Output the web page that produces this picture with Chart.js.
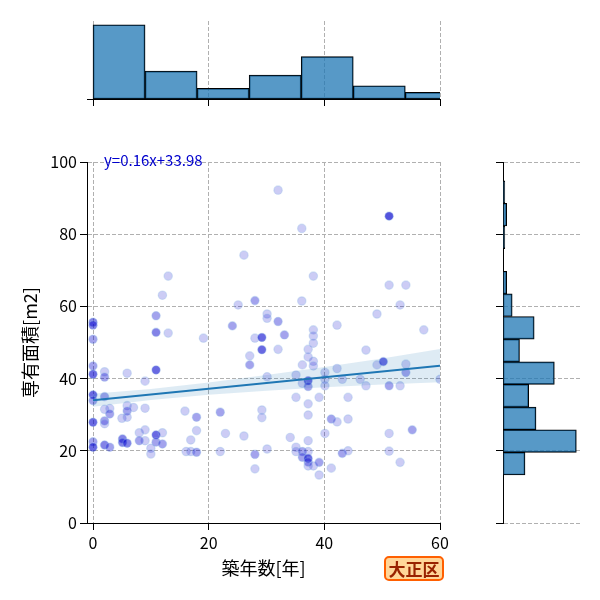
<!DOCTYPE html>
<html>
<head>
<meta charset="utf-8">
<script src="https://cdn.jsdelivr.net/npm/chart.js@4/dist/chart.umd.min.js"></script>
<style>
  html, body { margin: 0; padding: 0; background: #fff; }
  #wrap { position: relative; width: 600px; height: 600px; }
  canvas { position: absolute; left: 0; top: 0; }
  #ward {
    position: absolute; left: 384px; top: 556px; width: 60px; height: 25px;
    box-sizing: border-box; border: 2px solid #ff5f00; border-radius: 5px;
    background: #ffd699; color: #992200; text-align: center;
    font: bold 17px "Noto Sans CJK JP", sans-serif; line-height: 21px;
  }
</style>
</head>
<body>
<div id="wrap">
  <canvas id="top" width="600" height="600"></canvas>
  <canvas id="side" width="600" height="600"></canvas>
  <canvas id="main" width="600" height="600"></canvas>
  <div id="ward">大正区</div>
</div>
<script>
// building age [years] of each listing
const ages = [
  0, 0, 0, 0, 0, 0, 0, 0, 0, 0,
  2, 2, 2, 2, 2.9, 2.9, 2, 2, 2, 2.9,
  5.9, 10.9, 9, 5.9, 5.9, 7, 9, 5, 5.9,
  8, 9, 9, 8, 10.9, 10.9, 12, 12, 10, 10,
  5.1, 5.1, 5.9,
  15.9, 17.9, 22, 17.9, 16.9, 22.9, 26.1, 16.1, 16.9, 17.9, 22, 28, 28,
  26.1, 13, 12, 10.9, 10.9, 13, 19.1, 25.1, 28, 24.1, 28,
  32, 36.1, 51.2, 38.1, 51.2, 54.1, 53.1, 49.1, 36.1, 30.1, 30.1, 32, 42.2, 57.2, 29.2, 33.1, 38.1, 38.1, 38.1, 37.2, 29.2, 32, 47.2,
  27.1, 27.1, 37.2, 38.1, 38.1, 36.2, 42.2, 49.1, 50.2, 54.1, 54.1, 35.1, 30.1, 37.2, 36.2, 37.2, 40.1, 40.1, 40.1, 43.1, 46.2, 47.2, 51.2, 53.1, 60,
  35.1, 39.1, 44.1, 37.2, 37.2, 29.2, 29.2, 41.2, 42.2, 44.1, 55.2, 51.2, 40.1, 34.1, 37.2, 30.1, 35.1, 35.1, 36.2, 37.2, 36.2, 37.2, 37.2, 37.2, 38.1, 39.1, 39.1, 41.2, 43.1, 44.1, 51.2, 53.1
];
// floor area [m2]
const areas = [
  55.6, 54.8, 50.9, 43.5, 41.2, 35.5, 33.9, 27.9, 22.5, 21.0,
  41.9, 40.4, 35.0, 31.5, 31.7, 30.2, 28.3, 27.5, 21.6, 21.0,
  41.5, 42.4, 39.3, 32.5, 31.0, 32.0, 31.8, 29.0, 29.3,
  25.0, 25.8, 22.8, 22.8, 24.4, 22.4, 25.0, 21.9, 20.7, 19.1,
  23.3, 22.3, 22.1,
  31.0, 29.3, 30.7, 25.6, 23.0, 24.8, 24.1, 19.8, 19.8, 19.6, 19.8, 19.0, 15.0,
  74.2, 68.4, 63.1, 57.4, 52.8, 52.6, 51.2, 60.4, 61.6, 54.6, 51.2,
  92.2, 81.6, 85.0, 68.4, 65.9, 65.9, 60.4, 57.9, 61.5, 57.9, 56.7, 55.8, 54.8, 53.5, 51.4, 52.1, 53.5, 51.8, 49.8, 48.1, 48.0, 48.1, 47.9,
  46.3, 43.8, 46.0, 44.8, 43.5, 43.8, 42.8, 43.8, 44.7, 44.0, 41.7, 41.0, 40.5, 39.4, 38.7, 37.8, 41.7, 39.8, 38.0, 39.8, 39.8, 38.0, 38.0, 38.0, 39.8,
  34.8, 34.8, 34.8, 33.0, 29.9, 31.3, 29.2, 28.8, 28.0, 28.8, 25.8, 24.8, 24.8, 23.7, 22.8, 20.5, 21.0, 19.8, 19.8, 19.8, 18.2, 17.9, 16.9, 15.8, 15.8, 16.8, 13.3, 15.2, 19.3, 20.0, 19.9, 16.8
];
// how many listings sit on top of each other at that spot
const stacked = [
  3, 3, 2, 2, 4, 4, 2, 4, 2, 4,
  1, 2, 2, 1, 1, 2, 2, 1, 3, 2,
  1, 4, 1, 1, 2, 1, 1, 1, 1,
  1, 1, 1, 2, 4, 2, 1, 2, 1, 1,
  3, 3, 3,
  1, 2, 2, 1, 1, 1, 1, 1, 1, 2, 1, 2, 1,
  1, 1, 1, 2, 3, 1, 1, 1, 2, 2, 1,
  1, 1, 5, 1, 1, 1, 1, 1, 1, 1, 1, 2, 1, 1, 4, 2, 1, 1, 1, 1, 4, 1, 1,
  1, 2, 1, 1, 1, 1, 1, 1, 4, 1, 2, 1, 1, 4, 1, 2, 1, 1, 1, 1, 1, 1, 2, 1, 1,
  1, 1, 1, 1, 1, 1, 1, 2, 1, 1, 2, 1, 1, 1, 1, 1, 1, 1, 2, 1, 2, 4, 2, 1, 1, 2, 1, 1, 2, 1, 1, 1
];

// regression fit and its confidence band
const slope = 0.16;
const intercept = 33.98;
const bandX = [0, 10, 20, 30, 40, 50, 60];
const bandLo = [32.2, 34.1, 35.5, 36.6, 37.6, 38.4, 39.0];
const bandHi = [35.8, 37.1, 38.9, 41.0, 43.2, 45.6, 48.2];

// marginal histograms
const ageBinStart = 0, ageBinWidth = 9;
const ageCounts = [56, 21, 8, 18, 32, 10, 5];
const areaBinStart = 13.3, areaBinWidth = 6.27;
const areaCounts = [12, 40, 18, 14, 28, 9, 17, 5, 2, 0, 1, 2, 1];

const ageTicks = [0, 20, 40, 60];
const areaTicks = [0, 20, 40, 60, 80, 100];
const xMin = -1.04, xMax = 60;

const FONT = '"Noto Sans CJK JP", "Noto Sans", sans-serif';
const gridGray = '#b0b0b0';
const histFill = 'rgba(31,119,180,0.75)';

function axisStyle(tickVals) {
  return {
    afterBuildTicks: s => { s.ticks = tickVals.map(v => ({ value: v })); },
    grid: { color: gridGray, lineWidth: 1, tickLength: 7, tickColor: '#000', tickWidth: 1, offset: false },
    border: { color: '#000', width: 1, dash: [4, 2] },
  };
}

const base = {
  responsive: false,
  animation: false,
  devicePixelRatio: 1,
  events: [],
  plugins: { legend: { display: false }, tooltip: { enabled: false } },
};

// equation text in the top left corner of the scatter
const eqLabel = {
  id: 'eqLabel',
  afterDatasetsDraw(chart) {
    const { ctx, chartArea } = chart;
    ctx.save();
    ctx.font = '15px ' + FONT;
    ctx.fillStyle = '#0000cd';
    ctx.textBaseline = 'middle';
    ctx.fillText('y=' + slope.toFixed(2) + 'x+' + intercept.toFixed(2), chartArea.left + 17, chartArea.top - 2);
    ctx.restore();
  }
};

const points = ages.map((a, i) => ({ x: a, y: areas[i] }));
const pointFill = stacked.map(n => 'rgba(0,0,205,' + (1 - Math.pow(0.8, n)).toFixed(3) + ')');

new Chart(document.getElementById('main'), {
  type: 'scatter',
  data: {
    datasets: [
      {
        type: 'line',
        data: [{ x: 0, y: intercept }, { x: xMax, y: intercept + slope * xMax }],
        borderColor: '#1f77b4', borderWidth: 2, pointRadius: 0, fill: false, order: 0
      },
      {
        type: 'line',
        data: bandX.map((x, i) => ({ x: x, y: bandLo[i] })),
        borderColor: 'rgba(0,0,0,0)', borderWidth: 0, pointRadius: 0, fill: false, order: 1
      },
      {
        type: 'line',
        data: bandX.map((x, i) => ({ x: x, y: bandHi[i] })),
        borderColor: 'rgba(0,0,0,0)', borderWidth: 0, pointRadius: 0,
        fill: '-1', backgroundColor: 'rgba(31,119,180,0.15)', order: 1
      },
      {
        data: points,
        pointRadius: 4.2,
        backgroundColor: pointFill,
        borderColor: 'rgba(140,180,230,0.35)',
        borderWidth: 1.2,
        clip: 0,
        order: 2
      }
    ]
  },
  options: Object.assign({}, base, {
    layout: { padding: { left: 0, top: 162, right: 160, bottom: 0 } },
    scales: {
      x: Object.assign(axisStyle(ageTicks), {
        type: 'linear', min: xMin, max: xMax,
        afterFit: s => { s.height = 77; },
        ticks: { color: '#000', font: { family: FONT, size: 16 }, padding: 3, maxRotation: 0 },
        title: { display: true, text: '築年数[年]', color: '#000', font: { family: FONT, size: 18 }, padding: { top: 0, bottom: 21 } }
      }),
      y: Object.assign(axisStyle(areaTicks), {
        type: 'linear', min: 0, max: 100,
        afterFit: s => { s.width = 87; },
        ticks: { color: '#000', font: { family: FONT, size: 16 }, padding: 3 },
        title: { display: true, text: '専有面積[m2]', color: '#000', font: { family: FONT, size: 18 }, padding: { top: 19, bottom: 0 } }
      })
    }
  }),
  plugins: [eqLabel]
});

// top: age histogram
new Chart(document.getElementById('top'), {
  type: 'bar',
  data: {
    datasets: [{
      data: ageCounts.map((c, i) => ({ x: ageBinStart + ageBinWidth * (i + 0.5), y: c })),
      backgroundColor: histFill, borderColor: '#000', borderWidth: 1, borderSkipped: false,
      barPercentage: 1, categoryPercentage: 1,
      clip: { left: 2, top: 2, right: 0, bottom: 2 }
    }]
  },
  options: Object.assign({}, base, {
    layout: { padding: { left: 87, top: 21, right: 160, bottom: 491 } },
    scales: {
      x: Object.assign(axisStyle(ageTicks), {
        type: 'linear', min: xMin, max: xMax, offset: false,
        afterFit: s => { s.height = 10; },
        ticks: { display: false }
      }),
      y: { display: false, min: 0, max: Math.max(...ageCounts) * 1.05 }
    }
  })
});

// right: area histogram
new Chart(document.getElementById('side'), {
  type: 'bar',
  data: {
    datasets: [{
      data: areaCounts.map((c, i) => ({ y: areaBinStart + areaBinWidth * (i + 0.5), x: c })),
      backgroundColor: histFill, borderColor: '#000', borderWidth: 1, borderSkipped: false,
      barPercentage: 1, categoryPercentage: 1
    }]
  },
  options: Object.assign({}, base, {
    indexAxis: 'y',
    layout: { padding: { left: 493, top: 162, right: 20, bottom: 77 } },
    scales: {
      y: Object.assign(axisStyle(areaTicks), {
        type: 'linear', min: 0, max: 100, offset: false,
        afterFit: s => { s.width = 10; },
        ticks: { display: false }
      }),
      x: { display: false, min: 0, max: Math.max(...areaCounts) * 1.05 }
    }
  })
});
</script>
</body>
</html>
